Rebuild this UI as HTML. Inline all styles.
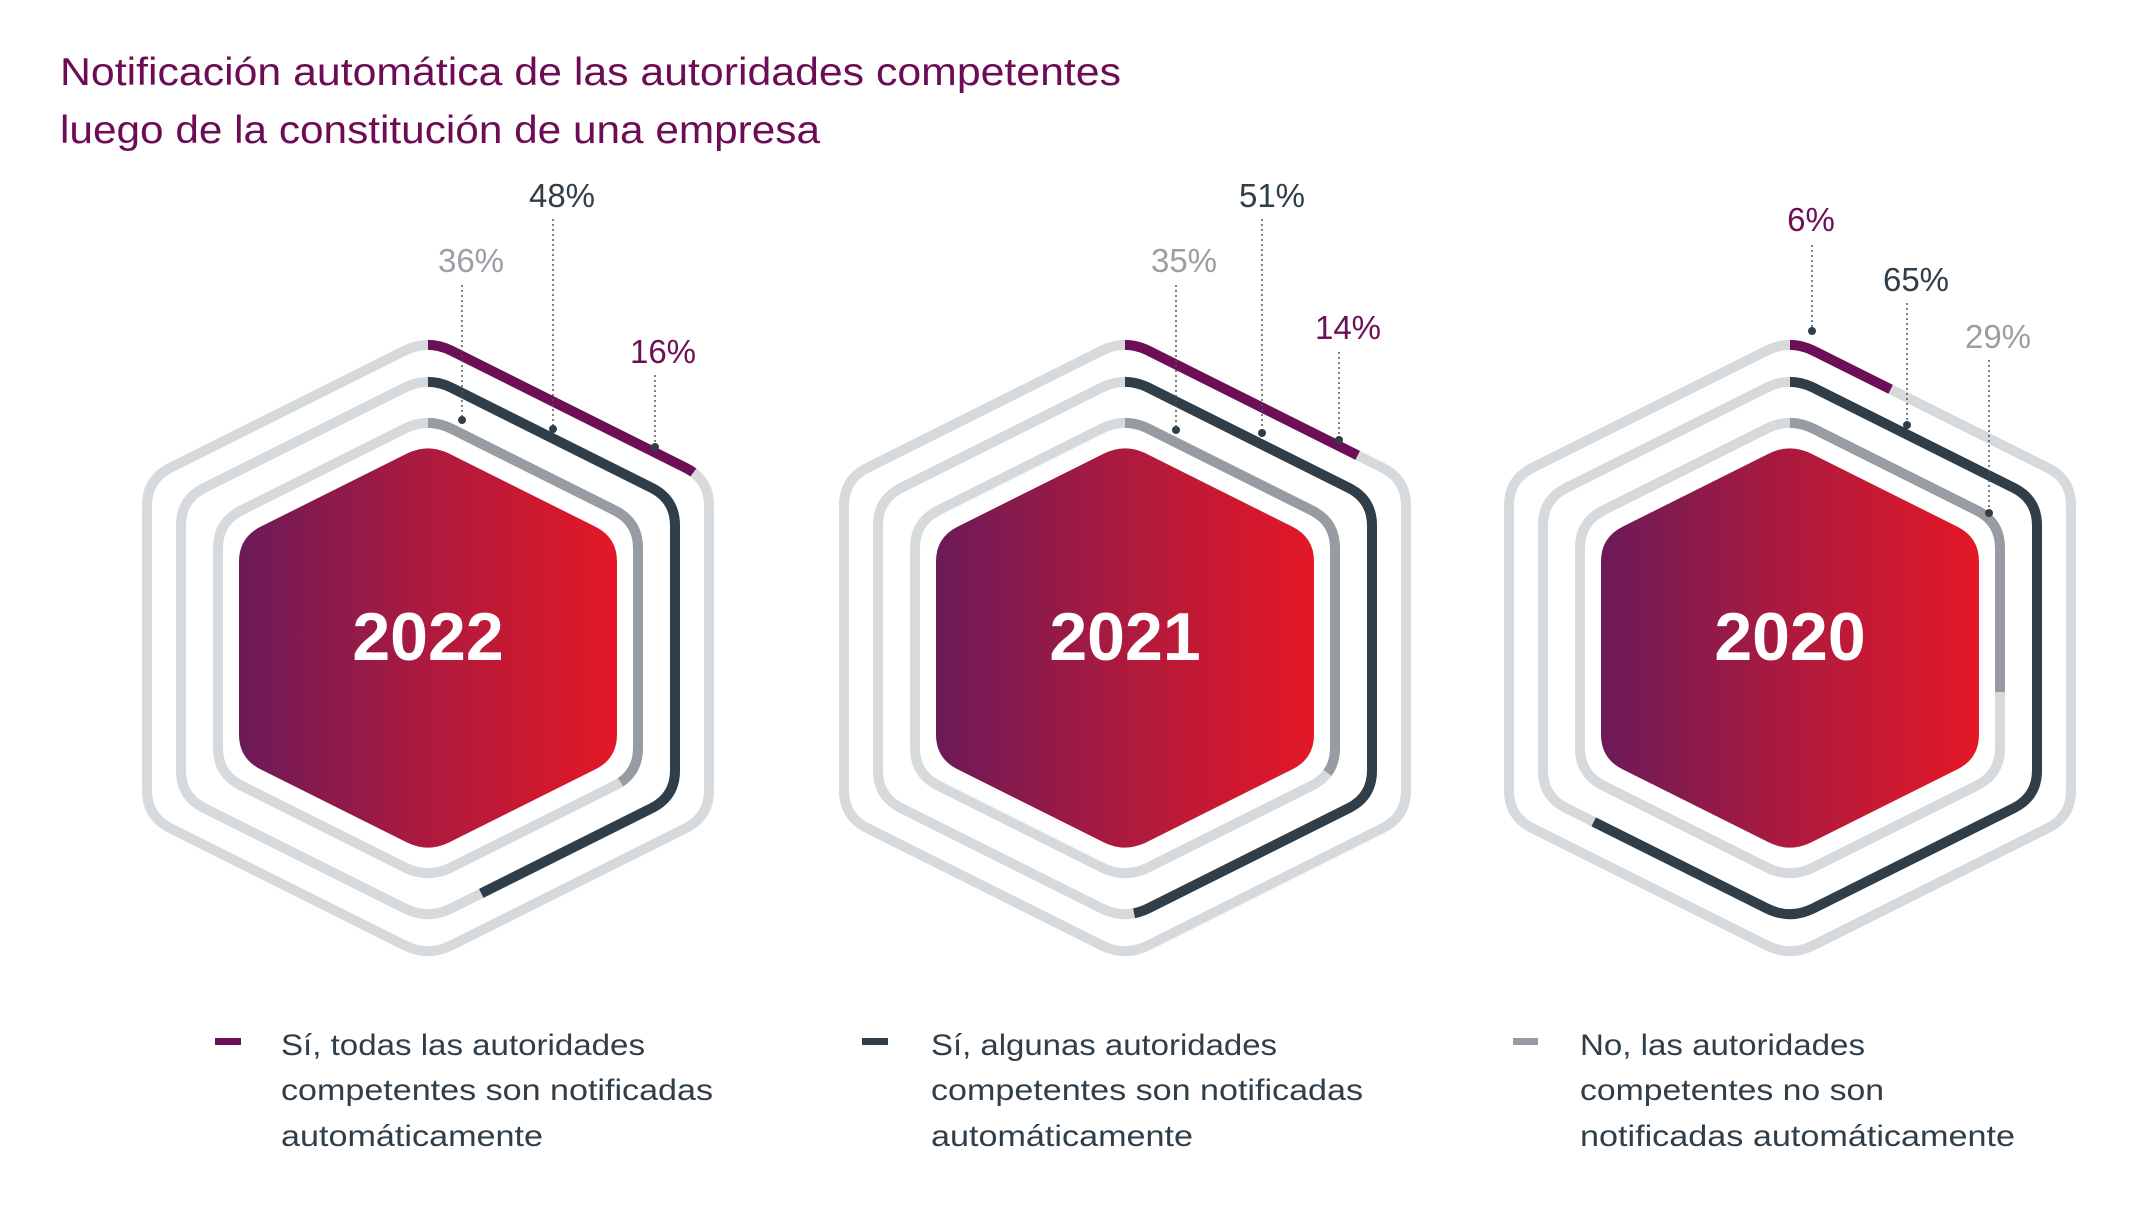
<!DOCTYPE html>
<html><head><meta charset="utf-8">
<style>
html,body{margin:0;padding:0;background:#fff;}
svg{display:block;}
text{font-family:"Liberation Sans",sans-serif;}
</style></head>
<body>
<svg id="s" width="2150" height="1205" viewBox="0 0 2150 1205" xmlns="http://www.w3.org/2000/svg">
<defs>
<linearGradient id="g" x1="0" x2="1" y1="0" y2="0">
<stop offset="0" stop-color="#6b1a58"/><stop offset="0.5" stop-color="#ad1a3e"/><stop offset="1" stop-color="#e41826"/>
</linearGradient>
</defs>
<text x="60" y="85" font-size="39" fill="#6d0b55" textLength="1061" lengthAdjust="spacingAndGlyphs">Notificación automática de las autoridades competentes</text>
<text x="60" y="143" font-size="39" fill="#6d0b55" textLength="760" lengthAdjust="spacingAndGlyphs">luego de la constitución de una empresa</text>

<g font-size="30" fill="#2f3e48">
<rect x="215" y="1038" width="26" height="7" fill="#6d0f57"/>
<text x="281" y="1055" textLength="364" lengthAdjust="spacingAndGlyphs">Sí, todas las autoridades</text>
<text x="281" y="1100" textLength="432" lengthAdjust="spacingAndGlyphs">competentes son notificadas</text>
<text x="281" y="1146" textLength="262" lengthAdjust="spacingAndGlyphs">automáticamente</text>
<rect x="862" y="1038" width="26" height="7" fill="#2f3e48"/>
<text x="931" y="1055" textLength="346" lengthAdjust="spacingAndGlyphs">Sí, algunas autoridades</text>
<text x="931" y="1100" textLength="432" lengthAdjust="spacingAndGlyphs">competentes son notificadas</text>
<text x="931" y="1146" textLength="262" lengthAdjust="spacingAndGlyphs">automáticamente</text>
<rect x="1513" y="1038" width="25" height="7" fill="#969ca1"/>
<text x="1580" y="1055" textLength="285" lengthAdjust="spacingAndGlyphs">No, las autoridades</text>
<text x="1580" y="1100" textLength="304" lengthAdjust="spacingAndGlyphs">competentes no son</text>
<text x="1580" y="1146" textLength="435" lengthAdjust="spacingAndGlyphs">notificadas automáticamente</text>
</g>
<g id="charts"></g>
</svg>
<script>
(function(){
var NS="http://www.w3.org/2000/svg";
var root=document.getElementById("charts");
function hexPath(cx,cy,W,H,r){
  var v=[[cx,cy-H],[cx+W,cy-H+0.5*W],[cx+W,cy+H-0.5*W],[cx,cy+H],[cx-W,cy+H-0.5*W],[cx-W,cy-H+0.5*W]];
  function pt(i,j,d){var a=v[i],b=v[j];var dx=b[0]-a[0],dy=b[1]-a[1],L=Math.hypot(dx,dy);return [a[0]+dx/L*d,a[1]+dy/L*d];}
  var ins=[],outs=[];
  for(var i=0;i<6;i++){outs[i]=pt(i,(i+1)%6,r);ins[i]=pt(i,(i+5)%6,r);}
  var V=v[0],P0=ins[0],P1=outs[0];
  var M=[(P0[0]+2*V[0]+P1[0])/4,(P0[1]+2*V[1]+P1[1])/4];
  var c2=[(V[0]+P1[0])/2,(V[1]+P1[1])/2],c1=[(P0[0]+V[0])/2,(P0[1]+V[1])/2];
  var d="M"+M+" Q"+c2+" "+P1;
  for(var k=1;k<6;k++){d+=" L"+ins[k]+" Q"+v[k]+" "+outs[k];}
  d+=" L"+P0+" Q"+c1+" "+M;
  return d;
}
function el(n,a,p){var e=document.createElementNS(NS,n);for(var k in a)e.setAttribute(k,a[k]);(p||root).appendChild(e);return e;}
var rings=[[281,309,"#6d0f57"],[247,272,"#2f3e48"],[210,231,"#969ca1"]];
var charts=[
 {cx:428,year:"2022",v:[16,48,36],labels:[
   ["16%",663,363,655,375,447,"#6d0f57"],["48%",562,207,553,219,429,"#2f3e48"],["36%",471,272,462,285,420,"#9a9fa4"]]},
 {cx:1125,year:"2021",v:[14,51,35],labels:[
   ["14%",1348,339,1339,352,440,"#6d0f57"],["51%",1272,207,1262,219,433,"#2f3e48"],["35%",1184,272,1176,285,430,"#9a9fa4"]]},
 {cx:1790,year:"2020",v:[6,65,29],labels:[
   ["6%",1811,231,1812,245,331,"#6d0f57"],["65%",1916,291,1907,303,425,"#2f3e48"],["29%",1998,348,1989,360,513,"#9a9fa4"]]}
];
var cy=648;
charts.forEach(function(c){
  rings.forEach(function(r,i){
    var d=hexPath(c.cx,cy,r[0],r[1],26);
    el("path",{d:d,fill:"none",stroke:"#d7dadd","stroke-width":10});
    el("path",{d:d,fill:"none",stroke:r[2],"stroke-width":10,pathLength:100,"stroke-dasharray":(c.v[i]*0.97).toFixed(2)+" 200"});
  });
  el("path",{d:hexPath(c.cx,cy,189,205,24),fill:"url(#g)"});
  var t=el("text",{x:c.cx,y:cy+12,"font-size":68,"font-weight":"bold",fill:"#fff","text-anchor":"middle"});t.textContent=c.year;
  c.labels.forEach(function(L){
    el("line",{x1:L[3],y1:L[4],x2:L[3],y2:L[5],stroke:"#555","stroke-width":1.5,"stroke-dasharray":"2 3"});
    el("circle",{cx:L[3],cy:L[5],r:4,fill:"#2f3e48"});
    var tt=el("text",{x:L[1],y:L[2],"font-size":33,fill:L[6],"text-anchor":"middle"});tt.textContent=L[0];
  });
});
})();
</script>
</body></html>
